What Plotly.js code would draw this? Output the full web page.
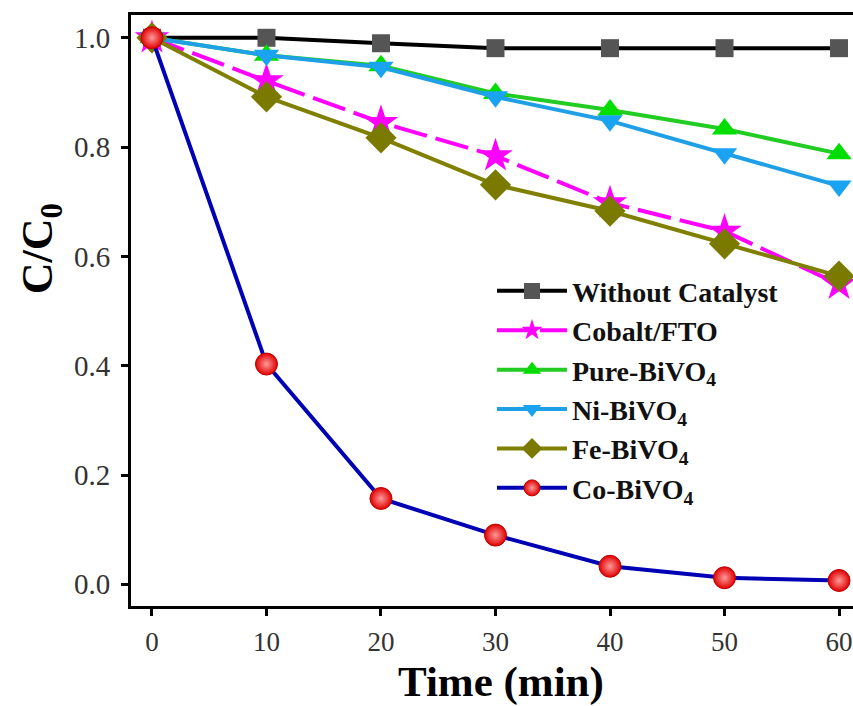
<!DOCTYPE html>
<html>
<head>
<meta charset="utf-8">
<script src="https://cdn.plot.ly/plotly-3.0.1.min.js"></script>
<style>
html,body{margin:0;padding:0;background:#fff;}
#chart{width:853px;height:706px;}
</style>
</head>
<body>
<div id="chart"></div>
<script>
// Data
const time = [0, 10, 20, 30, 40, 50, 60];
const seriesNames = ["Without Catalyst", "Cobalt/FTO", "Pure-BiVO<sub>4</sub>", "Ni-BiVO<sub>4</sub>", "Fe-BiVO<sub>4</sub>", "Co-BiVO<sub>4</sub>"];
const withoutCatalyst = [1.0, 1.0, 0.99, 0.981, 0.981, 0.981, 0.981];
const cobaltFTO = [1.0, 0.921, 0.845, 0.784, 0.698, 0.646, 0.549];
const pureBiVO4 = [1.0, 0.968, 0.949, 0.898, 0.868, 0.833, 0.788];
const niBiVO4 = [1.0, 0.968, 0.946, 0.892, 0.848, 0.788, 0.729];
const feBiVO4 = [1.0, 0.892, 0.817, 0.731, 0.683, 0.623, 0.564];
const coBiVO4 = [1.0, 0.403, 0.157, 0.090, 0.033, 0.012, 0.007];
const yTicks = [0.0, 0.2, 0.4, 0.6, 0.8, 1.0];
const xTicks = [0, 10, 20, 30, 40, 50, 60];
const xTitle = 'Time (min)';
const yTitle = 'C/C<sub>0</sub>';

const serif = 'Liberation Serif, Times New Roman, Times, serif';

const traces = [
  {x: time, y: withoutCatalyst, name: seriesNames[0],
   mode: 'lines+markers', line: {color: '#000000', width: 4},
   marker: {symbol: 'square', size: 18, color: '#555555', line: {width: 0}}},
  {x: time, y: cobaltFTO, name: seriesNames[1],
   mode: 'lines+markers', line: {color: '#ff00ff', width: 4, dash: '34px,9px'},
   marker: {symbol: 'star', size: 26, color: '#ff00ff', line: {width: 0}}},
  {x: time, y: pureBiVO4, name: seriesNames[2],
   mode: 'lines+markers', line: {color: '#22cc22', width: 4},
   marker: {symbol: 'triangle-up', size: 22, color: '#00dd00', line: {width: 0}}},
  {x: time, y: niBiVO4, name: seriesNames[3],
   mode: 'lines+markers', line: {color: '#1fa0e6', width: 4},
   marker: {symbol: 'triangle-down', size: 22, color: '#1aa3f0', line: {width: 0}}},
  {x: time, y: feBiVO4, name: seriesNames[4],
   mode: 'lines+markers', line: {color: '#808000', width: 4},
   marker: {symbol: 'diamond', size: 24, color: '#7a7a00', line: {width: 0}}},
  {x: time, y: coBiVO4, name: seriesNames[5],
   mode: 'lines+markers', line: {color: '#0000b4', width: 4},
   marker: {symbol: 'circle', size: 22, color: '#e00000',
            gradient: {type: 'radial', color: '#ff9a9a'},
            line: {width: 1, color: '#c00000'}}}
];

const layout = {
  width: 853, height: 706,
  paper_bgcolor: '#ffffff', plot_bgcolor: '#ffffff',
  margin: {l: 131, r: 0, t: 15, b: 100, pad: 0},
  font: {family: serif, color: '#222222'},
  showlegend: true,
  legend: {
    x: 0.50, y: 0.575, xanchor: 'left', yanchor: 'top',
    bgcolor: 'rgba(0,0,0,0)', borderwidth: 0,
    font: {family: serif, size: 28, color: '#111111', weight: 'bold'},
    itemwidth: 70, traceorder: 'normal'
  },
  xaxis: {
    range: [-1.83, 61.22], tickmode: 'array', tickvals: xTicks,
    ticktext: xTicks.map(String),
    showgrid: false, zeroline: false,
    showline: true, linecolor: '#000000', linewidth: 3, mirror: true,
    ticks: 'outside', ticklen: 7, tickwidth: 3, tickcolor: '#000000',
    tickfont: {family: serif, size: 27, color: '#333333'},
    ticklabelstandoff: 3, ticklabeloverflow: 'allow'
  },
  yaxis: {
    range: [-0.0397, 1.0417], tickmode: 'array', tickvals: yTicks,
    ticktext: yTicks.map(v => v.toFixed(1)),
    showgrid: false, zeroline: false,
    showline: true, linecolor: '#000000', linewidth: 3, mirror: false,
    ticks: 'outside', ticklen: 7, tickwidth: 3, tickcolor: '#000000',
    tickfont: {family: serif, size: 29, color: '#333333'},
    ticklabelstandoff: 5
  },
  annotations: [
    {text: yTitle, textangle: -90, showarrow: false,
     xref: 'paper', yref: 'paper', x: -0.125, y: 0.605,
     xanchor: 'center', yanchor: 'middle',
     font: {family: serif, size: 44, color: '#000000', weight: 'bold'}},
    {text: xTitle, showarrow: false,
     xref: 'paper', yref: 'paper', x: 0.512, y: -0.1692, yshift: -1,
     xanchor: 'center', yanchor: 'bottom', borderpad: 0,
     font: {family: serif, size: 43, color: '#000000', weight: 'bold'}}
  ]
};

Plotly.newPlot('chart', traces, layout, {displayModeBar: false, staticPlot: true});
</script>
</body>
</html>
